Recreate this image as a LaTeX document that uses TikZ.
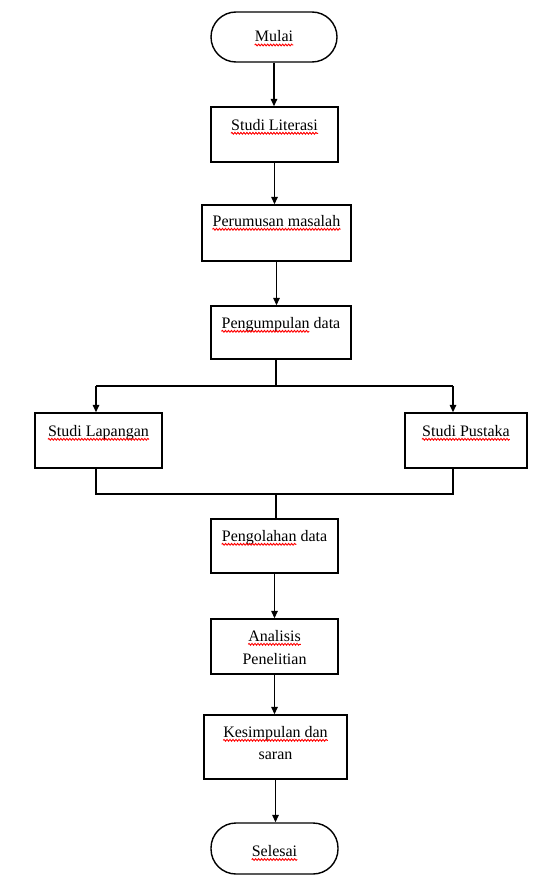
\documentclass[tikz,border=0pt]{standalone}
\usepackage{fontspec}
\setmainfont{Liberation Serif}
\usetikzlibrary{arrows.meta,decorations.pathmorphing}
\tikzset{
  fbox/.style={draw, line width=1.4pt, inner sep=0pt},
  term/.style={fbox, rounded corners=25pt},
  lbl/.style={anchor=base, inner sep=0pt, font=\fontsize{16}{22}\selectfont},
  conn/.style={line width=1.4pt},
  arr/.style={conn, -{Triangle[width=6.5pt,length=7.5pt]}},
  sqw/.style={draw=red, line width=0.9pt, decorate, decoration={snake, amplitude=0.9pt, segment length=3pt}},
}
\begin{document}
\fontsize{16}{22}\selectfont
\begin{tikzpicture}[x=1pt,y=-1pt]
\useasboundingbox (0,0) rectangle (538,888);
% boxes
\node[term, minimum width=126pt, minimum height=50pt] (start) at (274,37) {};
\node[fbox, minimum width=127pt, minimum height=55pt] (lit) at (274.5,134.5) {};
\node[fbox, minimum width=149pt, minimum height=56pt] (rum) at (276.5,233) {};
\node[fbox, minimum width=140pt, minimum height=53pt] (kum) at (281,332.5) {};
\node[fbox, minimum width=127pt, minimum height=55pt] (lap) at (98.5,440.5) {};
\node[fbox, minimum width=122pt, minimum height=55pt] (pus) at (466,440.5) {};
\node[fbox, minimum width=127pt, minimum height=54pt] (olah) at (274.5,546) {};
\node[fbox, minimum width=127pt, minimum height=55pt] (anal) at (274.5,646.5) {};
\node[fbox, minimum width=143pt, minimum height=64pt] (kes) at (275.5,747) {};
\node[term, minimum width=127pt, minimum height=51pt] (end) at (274.5,848.5) {};
% labels
\node[lbl] (tstart) at ([yshift=-5pt]start.center) {Mulai};
\node[lbl] (tlit) at ([yshift=-24pt]lit.north) {Studi Literasi};
\node[lbl] (trum) at ([yshift=-22pt]rum.north) {Perumusan masalah};
\node[lbl] (tkum) at ([yshift=-23pt]kum.north) {Pengumpulan data};
\node[lbl] (tlap) at ([yshift=-24pt]lap.north) {Studi Lapangan};
\node[lbl] (tpus) at ([yshift=-24pt]pus.north) {Studi Pustaka};
\node[lbl] (tolah) at ([yshift=-23pt]olah.north) {Pengolahan data};
\node[lbl] (tanal) at ([yshift=-23pt]anal.north) {Analisis};
\node[lbl] (tanalb) at ([yshift=-23pt]tanal.base) {Penelitian};
\node[lbl] (tkes) at ([yshift=-23pt]kes.north) {Kesimpulan dan};
\node[lbl] (tkesb) at ([yshift=-22pt]tkes.base) {saran};
\node[lbl] (tend) at ([yshift=-8pt]end.center) {Selesai};
% spell-check squiggles
\foreach \n in {tstart,tlit,trum,tlap,tpus,tanal,tkes,tend}
  \draw[sqw] ([yshift=-3pt]\n.base west) -- ([yshift=-3pt]\n.base east);
\draw[sqw] ([yshift=-3pt]tkum.base west) -- ++({width("Pengumpulan")},0);
\draw[sqw] ([yshift=-3pt]tolah.base west) -- ++({width("Pengolahan")},0);
% branch coordinates
\coordinate (split) at (276,386);
\coordinate (bl) at (96,386);
\coordinate (br) at (453,386);
\coordinate (join) at (276,494);
\coordinate (jl) at (96,494);
\coordinate (jr) at (453,494);
% connectors
\draw[arr] (start.south) -- (start.south |- lit.north);
\draw[arr] (lit.south) -- (lit.south |- rum.north);
\draw[arr] (rum.south) -- (rum.south |- kum.north);
\draw[conn] (kum.south -| split) -- (split);
\draw[conn] (bl) -- (br);
\draw[arr] (bl) -- (bl |- lap.north);
\draw[arr] (br) -- (br |- pus.north);
\draw[conn] (lap.south -| jl) -- (jl) -- (jr) -- (pus.south -| jr);
\draw[conn] (join) -- (join |- olah.north);
\draw[arr] (olah.south) -- (olah.south |- anal.north);
\draw[arr] (anal.south) -- (anal.south |- kes.north);
\draw[arr] (kes.south) -- (kes.south |- end.north);
\end{tikzpicture}
\end{document}
